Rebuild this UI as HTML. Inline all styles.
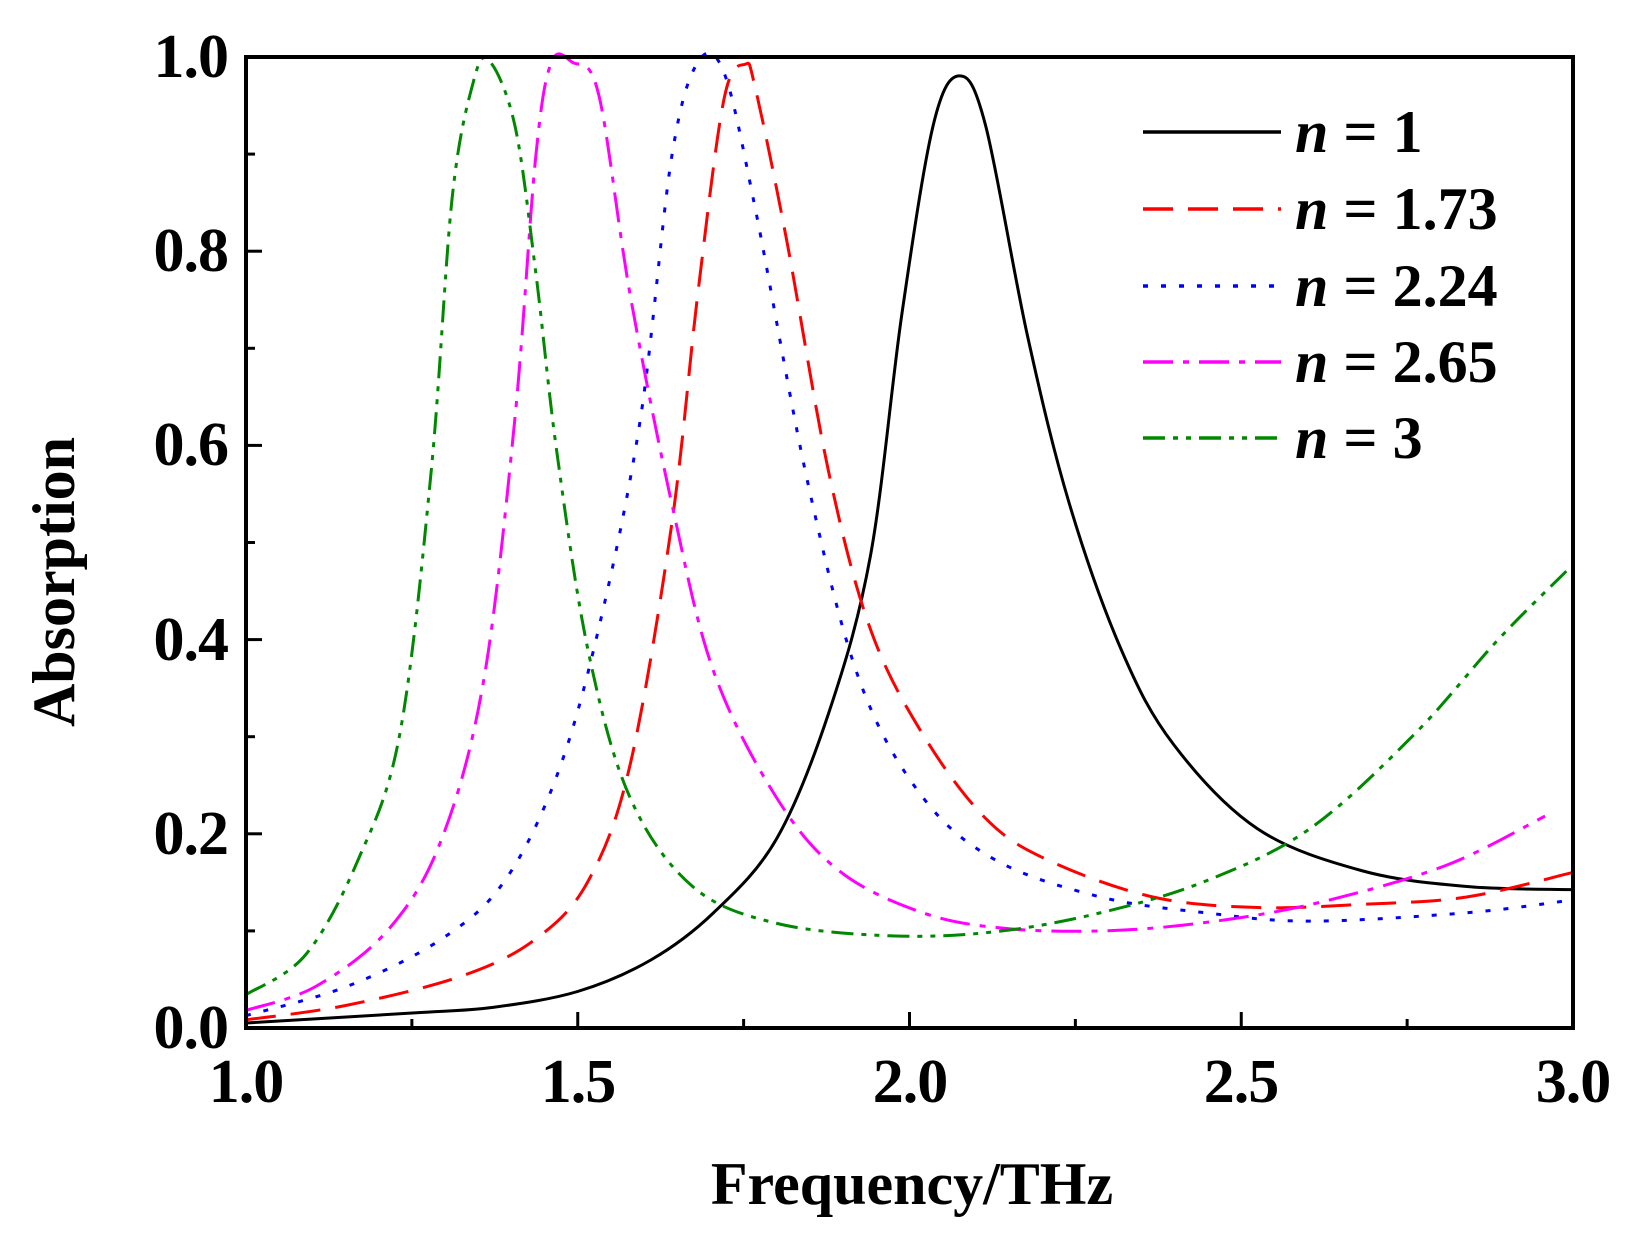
<!DOCTYPE html>
<html><head><meta charset="utf-8"><style>
body{margin:0;background:#fff}
svg text{font-family:"Liberation Serif",serif;font-weight:bold;fill:#000}
</style></head><body>
<svg id="s" width="1644" height="1232" viewBox="0 0 1644 1232" xmlns="http://www.w3.org/2000/svg">
<g id="curves" transform="translate(246,57) scale(1.046,1.05) translate(-233,-55)" fill="none" stroke-width="3"></g>
<rect x="246" y="57" width="1327" height="971" fill="none" stroke="#000" stroke-width="4"/>
<g id="ticks" stroke="#000" stroke-width="3"></g>
<g font-size="62" text-anchor="end" letter-spacing="-1">
<text x="228" y="1048">0.0</text><text x="228" y="854">0.2</text><text x="228" y="660">0.4</text><text x="228" y="465">0.6</text><text x="228" y="271">0.8</text><text x="228" y="77">1.0</text>
</g>
<g font-size="62" text-anchor="middle" letter-spacing="-1">
<text x="246" y="1102">1.0</text><text x="578" y="1102">1.5</text><text x="910" y="1102">2.0</text><text x="1241" y="1102">2.5</text><text x="1573" y="1102">3.0</text>
</g>
<text x="912" y="1204" font-size="60" text-anchor="middle">Frequency/THz</text>
<text transform="translate(74,582) rotate(-90)" font-size="60" text-anchor="middle">Absorption</text>
<g stroke-width="3.5" fill="none">
<line x1="1143" y1="132" x2="1281" y2="132" stroke="#000"/>
<line x1="1143" y1="209" x2="1281" y2="209" stroke="#f00" stroke-dasharray="30,15"/>
<line x1="1143" y1="286" x2="1281" y2="286" stroke="#00f" stroke-dasharray="5,13"/>
<line x1="1143" y1="362" x2="1281" y2="362" stroke="#f0f" stroke-dasharray="30,10,6,10"/>
<line x1="1143" y1="438" x2="1281" y2="438" stroke="#080" stroke-dasharray="22,8,5,8,5,8"/>
</g>
<g font-size="60">
<text x="1295" y="152"><tspan font-style="italic">n</tspan> = 1</text>
<text x="1295" y="229"><tspan font-style="italic">n</tspan> = 1.73</text>
<text x="1295" y="306"><tspan font-style="italic">n</tspan> = 2.24</text>
<text x="1295" y="382"><tspan font-style="italic">n</tspan> = 2.65</text>
<text x="1295" y="458"><tspan font-style="italic">n</tspan> = 3</text>
</g>
</svg>
<script>
var D=[
["#000","none",[[233,975],[400,965],[470,960],[550,945],[620,915],[680,870],[740,800],[790,680],[830,530],[860,300],[890,120],[915,73],[940,120],[980,320],[1020,480],[1070,620],[1120,710],[1200,790],[1300,830],[1400,845],[1500,848]]],
["#f00","30,15",[[233,972],[330,958],[440,930],[510,895],[560,840],[600,730],[640,500],[665,280],[690,95],[710,62],[720,85],[750,230],[790,450],[830,600],[880,700],[940,780],[1000,820],[1100,855],[1200,865],[1300,862],[1400,855],[1500,832]]],
["#00f","5,13",[[233,968],[330,940],[420,895],[480,840],[530,740],[570,600],[610,400],[640,150],[665,60],[690,70],[720,200],[770,460],[820,650],[880,760],[950,820],[1050,855],[1150,870],[1250,878],[1400,870],[1500,858]]],
["#f0f","30,10,6,10",[[233,963],[300,940],[370,885],[420,800],[460,650],[490,400],[510,150],[525,60],[545,60],[570,90],[600,280],[640,480],[680,640],[740,760],[800,830],[880,870],[960,885],[1060,887],[1160,878],[1260,860],[1380,825],[1475,778]]],
["#080","22,8,5,8,5,8",[[233,948],[290,910],[340,820],[380,700],[410,450],[430,190],[450,80],[465,58],[490,120],[510,260],[530,430],[560,620],[600,760],[660,845],[740,880],[850,892],[950,888],[1050,870],[1150,840],[1250,790],[1350,700],[1430,610],[1500,540]]]
];
var ns="http://www.w3.org/2000/svg",g=document.getElementById("curves");
D.forEach(function(c){var p=c[2],d="M"+p[0][0]+","+p[0][1];
for(var i=0;i<p.length-1;i++){var a=p[Math.max(i-1,0)],b=p[i],e=p[i+1],f=p[Math.min(i+2,p.length-1)];
d+=" C"+(b[0]+(e[0]-a[0])/6)+","+(b[1]+(e[1]-a[1])/6)+" "+(e[0]-(f[0]-b[0])/6)+","+(e[1]-(f[1]-b[1])/6)+" "+e[0]+","+e[1];}
var el=document.createElementNS(ns,"path");el.setAttribute("d",d);el.setAttribute("stroke",c[0]);el.setAttribute("vector-effect","non-scaling-stroke");
if(c[1]!="none")el.setAttribute("stroke-dasharray",c[1]);g.appendChild(el);});
var t=document.getElementById("ticks"),s="";
for(var i=0;i<=8;i++){var x=246+i*1327/8,L=i%2?9:16;s+='<line x1="'+x+'" y1="1028" x2="'+x+'" y2="'+(1028-L)+'"/>';}
for(var i=0;i<=10;i++){var y=1028-i*97.1,L=i%2?9:16;s+='<line x1="246" y1="'+y+'" x2="'+(246+L)+'" y2="'+y+'"/>';}
t.innerHTML=s;
</script>
</body></html>
